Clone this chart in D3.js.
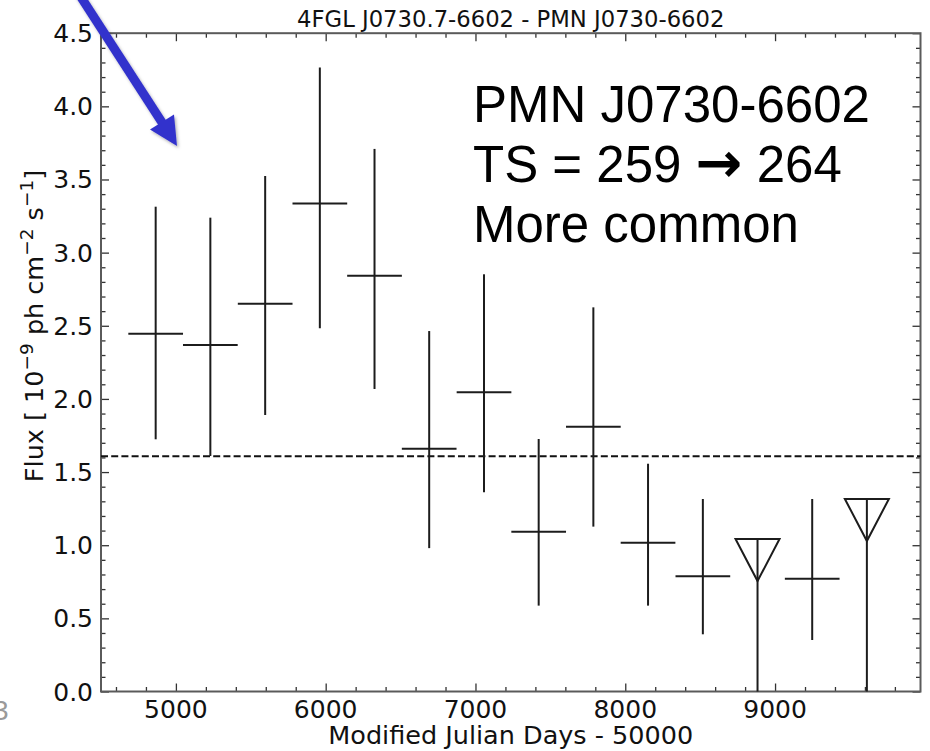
<!DOCTYPE html>
<html>
<head>
<meta charset="utf-8">
<script src="https://cdn.jsdelivr.net/npm/d3@7"></script>
<style>
  html, body { margin: 0; padding: 0; background: #fff; }
  svg { display: block; }
</style>
</head>
<body>
<svg id="chart" width="930" height="751"></svg>
<script>
// ---- data ----
const title = "4FGL J0730.7-6602 - PMN J0730-6602";
const xLabel = "Modified Julian Days - 50000";

// detected bins: centre (MJD-50000), bin half width (days), flux, upper/lower error ends (1e-9 ph cm^-2 s^-1)
const binMjd   = [4865, 5230, 5596, 5961, 6326, 6691, 7057, 7422, 7787, 8152, 8518, 9248];
const binHalf  = [182.6, 182.6, 182.6, 182.6, 182.6, 182.6, 182.6, 182.6, 182.6, 182.6, 182.6, 182.6];
const binFlux  = [2.446, 2.368, 2.651, 3.336, 2.842, 1.659, 2.045, 1.092, 1.810, 1.017, 0.787, 0.771];
const binHigh  = [3.314, 3.239, 3.524, 4.265, 3.709, 2.464, 2.852, 1.726, 2.626, 1.557, 1.316, 1.316];
const binLow   = [1.724, 1.610, 1.890, 2.483, 2.068, 0.980, 1.362, 0.587, 1.127, 0.587, 0.391, 0.352];

// upper-limit bins
const ulMjd  = [8883, 9613];
const ulFlux = [1.042, 1.316];

// mean flux (dashed line)
const meanFlux = 1.608;

// axis ticks
const xMajorTicks = [5000, 6000, 7000, 8000, 9000];
const xMinorTicks = [4600, 4800, 5200, 5400, 5600, 5800, 6200, 6400, 6600, 6800, 7200, 7400, 7600, 7800, 8200, 8400, 8600, 8800, 9200, 9400, 9600, 9800];
const yMajorTicks = [0.0, 0.5, 1.0, 1.5, 2.0, 2.5, 3.0, 3.5, 4.0, 4.5];
const yMinorTicks = [0.1,0.2,0.3,0.4,0.6,0.7,0.8,0.9,1.1,1.2,1.3,1.4,1.6,1.7,1.8,1.9,2.1,2.2,2.3,2.4,2.6,2.7,2.8,2.9,3.1,3.2,3.3,3.4,3.6,3.7,3.8,3.9,4.1,4.2,4.3,4.4];

// annotation text
const noteLines = ["PMN J0730-6602", "TS = 259 \u2192 264", "More common"];

// ---- layout ----
const svg = d3.select("#chart");
const L = 101, R = 920.5, T = 33.2, B = 691.5;
const x = d3.scaleLinear().domain([4500, 9971]).range([L, R]);
const y = d3.scaleLinear().domain([0, 4.5]).range([B, T]);

const mplFont = "'DejaVu Sans', sans-serif";
const ink = "#1c1c1c";

// axes with inward ticks (matplotlib style)
function addAxis(axisGen, transform, ticks, size) {
  const g = svg.append("g").attr("transform", transform)
    .call(axisGen.tickValues(ticks).tickSize(size).tickSizeOuter(0).tickFormat(() => ""));
  g.select(".domain").remove();
  g.selectAll(".tick line").attr("stroke", "#333").attr("stroke-width", 1.3);
  return g;
}
const fx = d3.format("d"), fy = d3.format(".1f");
// bottom
addAxis(d3.axisTop(x), `translate(0,${B})`, xMajorTicks, 8);
addAxis(d3.axisTop(x), `translate(0,${B})`, xMinorTicks, 4.5);
svg.append("g").selectAll("text").data(xMajorTicks).join("text")
  .attr("x", d => x(d)).attr("y", 717.5).attr("text-anchor", "middle")
  .attr("font-family", mplFont).attr("font-size", 25).attr("fill", "#111")
  .text(d => fx(d));
// top
addAxis(d3.axisBottom(x), `translate(0,${T})`, xMajorTicks, 8);
addAxis(d3.axisBottom(x), `translate(0,${T})`, xMinorTicks, 4.5);
// left
addAxis(d3.axisRight(y), `translate(${L},0)`, yMajorTicks, 8);
addAxis(d3.axisRight(y), `translate(${L},0)`, yMinorTicks, 4.5);
svg.append("g").selectAll("text").data(yMajorTicks).join("text")
  .attr("x", 93).attr("y", d => y(d)).attr("dy", "0.36em").attr("text-anchor", "end")
  .attr("font-family", mplFont).attr("font-size", 25).attr("fill", "#111")
  .text(d => fy(d));
// right
addAxis(d3.axisLeft(y), `translate(${R},0)`, yMajorTicks, 8);
addAxis(d3.axisLeft(y), `translate(${R},0)`, yMinorTicks, 4.5);

// frame
svg.append("rect").attr("x", L).attr("y", T).attr("width", R - L).attr("height", B - T)
  .attr("fill", "none").attr("stroke", "#5a5a5a").attr("stroke-width", 2);

// mean flux dashed line
svg.append("line").attr("x1", L).attr("x2", R).attr("y1", y(meanFlux)).attr("y2", y(meanFlux))
  .attr("stroke", "#111").attr("stroke-width", 2.2).attr("stroke-dasharray", "7,3.2");

// error bars
const gb = svg.append("g").attr("stroke", ink).attr("stroke-width", 2).attr("fill", "none");
binMjd.forEach((m, i) => {
  gb.append("line").attr("x1", x(m)).attr("x2", x(m)).attr("y1", y(binLow[i])).attr("y2", y(binHigh[i]));
  gb.append("line").attr("x1", x(m - binHalf[i])).attr("x2", x(m + binHalf[i]))
    .attr("y1", y(binFlux[i])).attr("y2", y(binFlux[i]));
});
// upper limits
ulMjd.forEach((m, i) => {
  const cx = x(m), cy = y(ulFlux[i]);
  gb.append("line").attr("x1", cx).attr("x2", cx).attr("y1", y(0)).attr("y2", cy);
  gb.append("path").attr("d", `M${cx - 22},${cy} L${cx + 22},${cy} L${cx},${cy + 42} Z`)
    .attr("stroke-linejoin", "miter");
});

// title
svg.append("text").attr("x", (L + R) / 2).attr("y", 26.5).attr("text-anchor", "middle")
  .attr("font-family", mplFont).attr("font-size", 22.7).attr("fill", "#111").text(title);

// x label
svg.append("text").attr("x", (L + R) / 2).attr("y", 744).attr("text-anchor", "middle")
  .attr("font-family", mplFont).attr("font-size", 25.5).attr("fill", "#111").text(xLabel);

// y label with superscripts
const yl = svg.append("text").attr("transform", "translate(42.5,326) rotate(-90)")
  .attr("text-anchor", "middle").attr("font-family", mplFont).attr("font-size", 25.5).attr("fill", "#111");
const parts = [["Flux [ 10", false], ["\u22129", true], [" ph cm", false], ["\u22122", true], [" s", false], ["\u22121", true], ["]", false]];
parts.forEach(([t, sup]) => {
  yl.append("tspan").attr("font-size", sup ? 18.5 : 25.5).attr("baseline-shift", sup ? "55%" : "0%").text(t);
});

// annotation (arrow glyph drawn bolder, as in the reference)
const noteFont = "'Liberation Sans', Arial, sans-serif";
const notes = svg.append("g").attr("font-family", noteFont).attr("font-size", 51).attr("fill", "#000");
noteLines.forEach((line, i) => {
  const t = notes.append("text").attr("x", 473).attr("y", 121.7 + i * 60);
  line.split(/(\u2192)/).forEach(seg => {
    if (seg === "\u2192") {
      t.append("tspan").attr("font-family", mplFont).attr("font-weight", "bold").attr("font-size", 56).text(seg);
    } else {
      t.append("tspan").text(seg);
    }
  });
});

// blue arrow
const defs = svg.append("defs");
const f = defs.append("filter").attr("id", "sh").attr("x", "-20%").attr("y", "-20%").attr("width", "140%").attr("height", "140%");
f.append("feDropShadow").attr("dx", 1.5).attr("dy", 2).attr("stdDeviation", 1.5).attr("flood-color", "#000").attr("flood-opacity", 0.3);
const ga = svg.append("g").attr("filter", "url(#sh)");
ga.append("line").attr("x1", 79).attr("y1", -6).attr("x2", 163).attr("y2", 124)
  .attr("stroke", "#3333cc").attr("stroke-width", 9);
ga.append("path").attr("d", "M150,129.5 L174,114.5 L177,146 Z").attr("fill", "#3333cc");

// clipped slide number at the left edge
svg.append("text").attr("x", 8.5).attr("y", 720).attr("text-anchor", "end")
  .attr("font-family", noteFont).attr("font-size", 28).attr("fill", "#9a9a9a").text("3");
</script>
</body>
</html>
